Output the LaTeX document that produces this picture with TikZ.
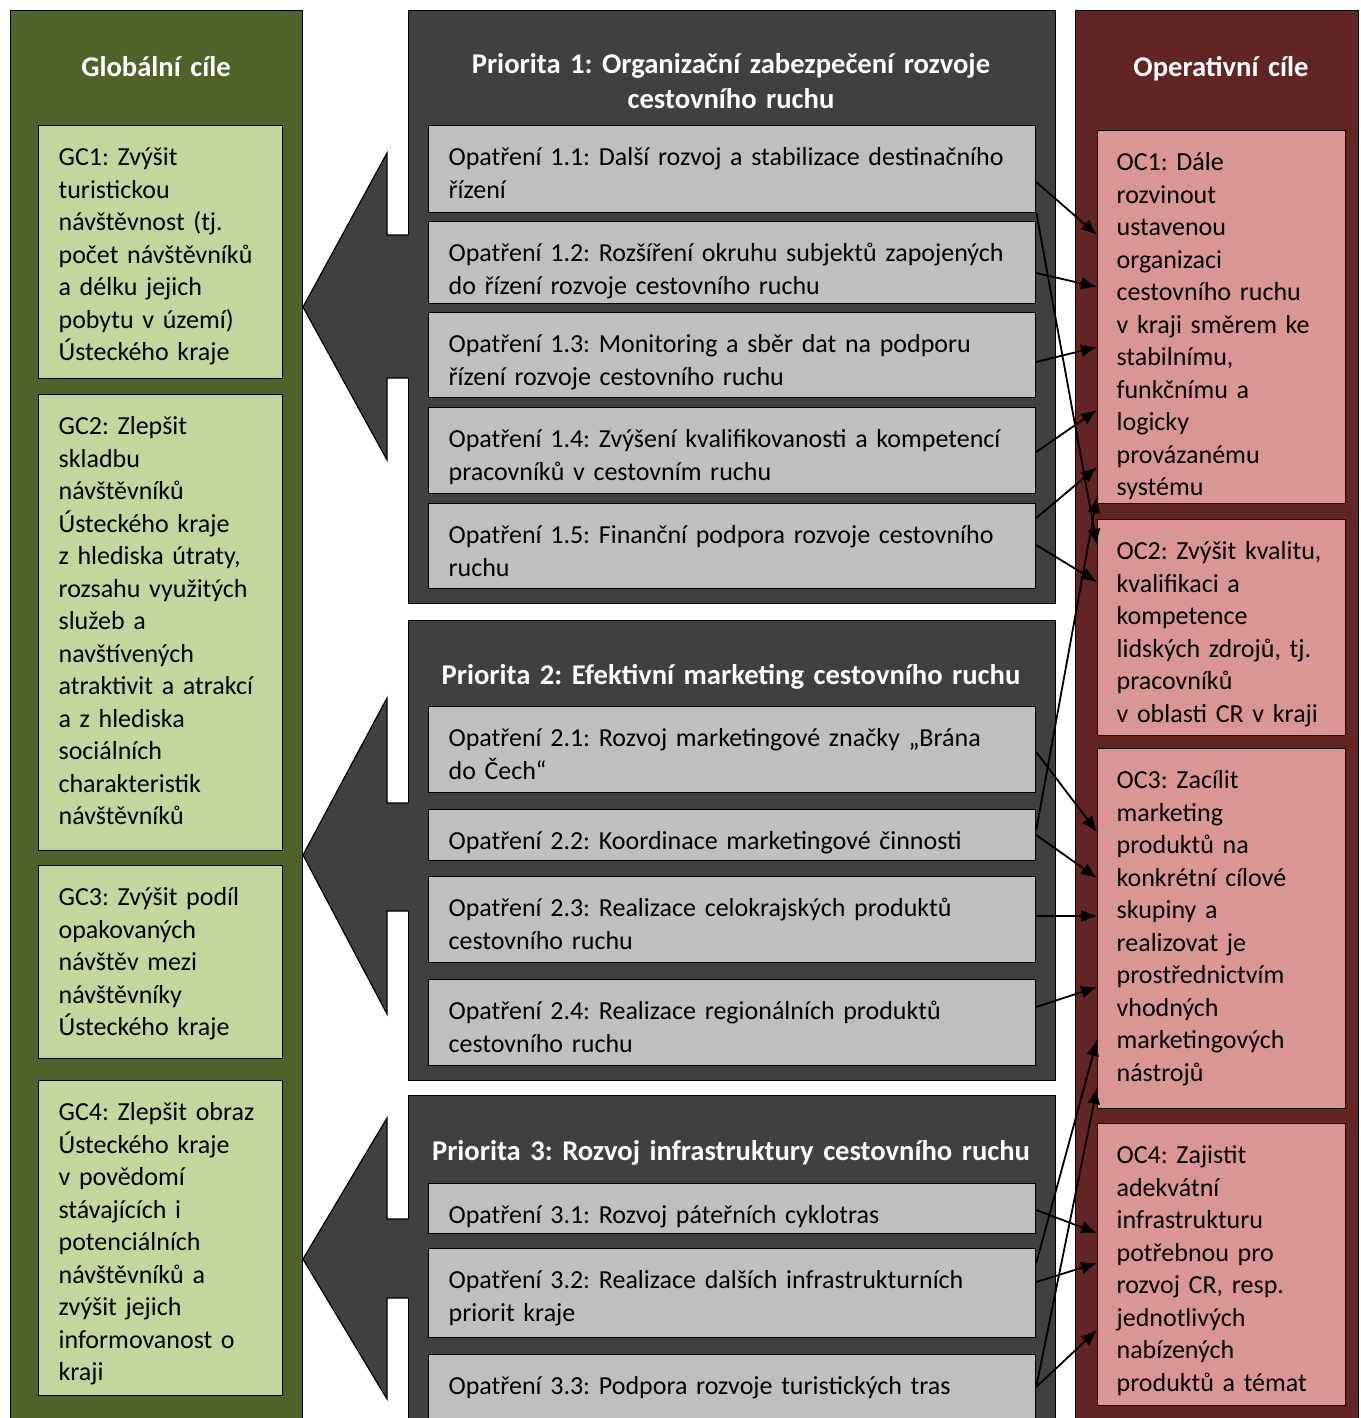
\documentclass[tikz,border=0pt]{standalone}
\usepackage{fontspec}
\setmainfont{Carlito}
\usetikzlibrary{arrows.meta,calc}
\tikzset{>={Latex[length=8pt,width=6.5pt]}}
\frenchspacing

\definecolor{goaldark}{RGB}{79,98,40}
\definecolor{goallight}{RGB}{195,214,155}
\definecolor{priodark}{RGB}{64,64,64}
\definecolor{priolight}{RGB}{191,191,191}
\definecolor{opdark}{RGB}{99,37,35}
\definecolor{oplight}{RGB}{217,150,148}
\newcommand{\boxfont}{\fontsize{13pt}{16.25pt}\selectfont}
\newcommand{\headfont}{\fontsize{14.3pt}{17.5pt}\selectfont\bfseries}

\tikzset{
  panel/.style={draw=black, line width=0.6pt, anchor=north west, inner sep=0pt},
  paneltitle/.style={text=white, font=\headfont, align=center, anchor=base, text width=#1},
  card/.style={draw=black, line width=0.6pt, anchor=north west, inner xsep=10pt,
    inner ysep=0pt, text height=20pt, align=left, font=\boxfont},
  goalbox/.style={card, fill=goallight, text width=102pt, text depth=#1},
  measbox/.style={card, fill=priolight, text width=283.5pt, text depth=#1},
  opbox/.style={card, fill=oplight, inner xsep=9.5pt, text width=105pt, text depth=#1}
}

\begin{document}
\begin{tikzpicture}[x=0.5pt, y=-0.5pt, line join=miter]
    \useasboundingbox (0,0) rectangle (1360,1418);
    \clip (0,0) rectangle (1360,1418);

    % panels
    \node[panel, fill=goaldark, minimum width=146pt, minimum height=715pt] (gpanel) at (10,10) {};
    \node[panel, fill=priodark, minimum width=323.5pt, minimum height=296.5pt] (p1) at (408,10) {};
    \node[panel, fill=priodark, minimum width=323.5pt, minimum height=230pt] (p2) at (408,620) {};
    \node[panel, fill=priodark, minimum width=323.5pt, minimum height=172.5pt] (p3) at (408,1095) {};
    \node[panel, fill=opdark, minimum width=141.5pt, minimum height=715pt] (opanel) at (1075,10) {};

    % arrows from the priorities to the global goals
    \foreach \ya/\yb/\yc/\yd/\ye in {153/235/307/378/460, 698/803/855/911/1014, 1118/1219/1259/1298/1399} {
        \fill[priodark] (410,\yb) -- (387,\yb) -- (387,\ya) -- (303,\yc) -- (387,\ye) -- (387,\yd) -- (410,\yd) -- cycle;
        \draw[line width=0.6pt] (408,\yb) -- (387,\yb) -- (387,\ya) -- (303,\yc) -- (387,\ye) -- (387,\yd) -- (408,\yd);
    }

    \node[paneltitle=140pt] (gtitle) at (156,76) {Globální cíle};
    \node[paneltitle=320pt] (t1) at (731,74) {Priorita 1: Organizační zabezpečení rozvoje\\cestovního ruchu};
    \node[paneltitle=320pt] (t2) at (731,684) {Priorita 2: Efektivní marketing cestovního ruchu};
    \node[paneltitle=320pt] (t3) at (731,1160) {Priorita 3: Rozvoj infrastruktury cestovního ruchu};
    \node[paneltitle=140pt] (otitle) at (1221,76) {Operativní cíle};

    \node[goalbox=106.5pt] (gc1) at (38,125) {GC1: Zvýšit\\turistickou\\návštěvnost (tj.\\počet návštěvníků\\a délku jejich\\pobytu v území)\\Ústeckého kraje};
    \node[goalbox=208pt] (gc2) at (38,394) {GC2: Zlepšit\\skladbu\\návštěvníků\\Ústeckého kraje\\z hlediska útraty,\\rozsahu využitých\\služeb a\\navštívených\\atraktivit a atrakcí\\a z hlediska\\sociálních\\charakteristik\\návštěvníků};
    \node[goalbox=76.5pt] (gc3) at (38,865) {GC3: Zvýšit podíl\\opakovaných\\návštěv mezi\\návštěvníky\\Ústeckého kraje};
    \node[goalbox=137.5pt] (gc4) at (38,1080) {GC4: Zlepšit obraz\\Ústeckého kraje\\v povědomí\\stávajících i\\potenciálních\\návštěvníků a\\zvýšit jejich\\informovanost o\\kraji};

    \node[measbox=23.5pt] (m11) at (428,125) {Opatření 1.1: Další rozvoj a stabilizace destinačního\\řízení};
    \node[measbox=21pt] (m12) at (428,221) {Opatření 1.2: Rozšíření okruhu subjektů zapojených\\do řízení rozvoje cestovního ruchu};
    \node[measbox=22.5pt] (m13) at (428,312) {Opatření 1.3: Monitoring a sběr dat na podporu\\řízení rozvoje cestovního ruchu};
    \node[measbox=23pt] (m14) at (428,407) {Opatření 1.4: Zvýšení kvalifikovanosti a kompetencí\\pracovníků v cestovním ruchu};
    \node[measbox=22.5pt] (m15) at (428,503) {Opatření 1.5: Finanční podpora rozvoje cestovního\\ruchu};
    \node[measbox=23pt] (m21) at (428,706) {Opatření 2.1: Rozvoj marketingové značky „Brána\\do Čech“};
    \node[measbox=5.5pt] (m22) at (428,809) {Opatření 2.2: Koordinace marketingové činnosti};
    \node[measbox=23pt] (m23) at (428,876) {Opatření 2.3: Realizace celokrajských produktů\\cestovního ruchu};
    \node[measbox=23pt] (m24) at (428,979) {Opatření 2.4: Realizace regionálních produktů\\cestovního ruchu};
    \node[measbox=5pt] (m31) at (428,1183) {Opatření 3.1: Rozvoj páteřních cyklotras};
    \node[measbox=24.5pt] (m32) at (428,1248) {Opatření 3.2: Realizace dalších infrastrukturních\\priorit kraje};
    \node[measbox=23pt] (m33) at (428,1354) {Opatření 3.3: Podpora rozvoje turistických tras};

    \node[opbox=166.5pt] (oc1) at (1097,130) {OC1: Dále\\rozvinout\\ustavenou\\organizaci\\cestovního ruchu\\v kraji směrem ke\\stabilnímu,\\funkčnímu a\\logicky\\provázanému\\systému};
    \node[opbox=88pt] (oc2) at (1097,519) {OC2: Zvýšit kvalitu,\\kvalifikaci a\\kompetence\\lidských zdrojů, tj.\\pracovníků\\v oblasti CR v kraji};
    \node[opbox=160pt] (oc3) at (1097,748) {OC3: Zacílit\\marketing\\produktů na\\konkrétní cílové\\skupiny a\\realizovat je\\prostřednictvím\\vhodných\\marketingových\\nástrojů};
    \node[opbox=121pt] (oc4) at (1097,1123) {OC4: Zajistit\\adekvátní\\infrastrukturu\\potřebnou pro\\rozvoj CR, resp.\\jednotlivých\\nabízených\\produktů a témat};

    % measure -> operative goal (offsets from the box tops)
    \foreach \a/\i/\b/\j in {m11/57/oc1/105, m11/87/oc2/26, m12/52/oc1/157, m13/50/oc1/217,
        m14/45/oc1/280, m15/15/oc1/337, m15/42/oc2/63, m22/21/oc1/367,
        m21/46/oc3/84, m22/26/oc3/130, m23/40/oc3/168, m24/28/oc3/239,
        m32/15/oc3/292, m33/33/oc3/340, m31/27/oc4/110, m32/34/oc4/140, m33/33/oc4/207}
        \draw[->, line width=0.9pt] ($(\a.north east)+(0,\i)$) -- ($(\b.north west)+(0,\j)$);
\end{tikzpicture}
\end{document}
